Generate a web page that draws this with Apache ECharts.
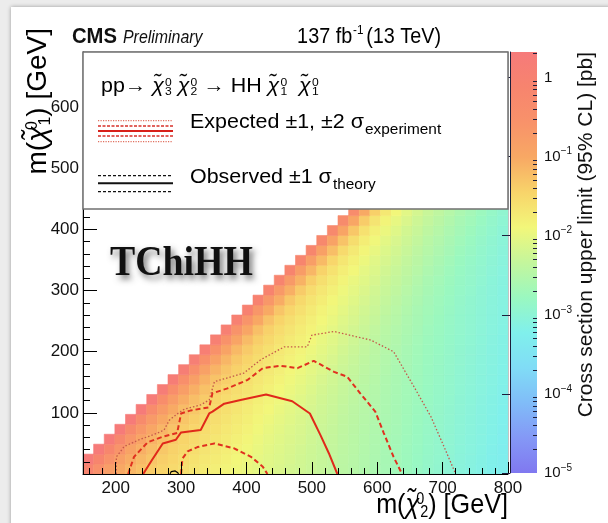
<!DOCTYPE html>
<html>
<head>
<meta charset="utf-8">
<script src="https://cdn.jsdelivr.net/npm/echarts@6/dist/echarts.min.js"></script>
<style>
  html, body { margin: 0; padding: 0; background: #ececec; }
  #chart { width: 608px; height: 523px; }
</style>
</head>
<body>
<div id="chart"></div>
<script>
// ---- Binning of the limit map -------------------------------------------
const X_MIN = 150, X_MAX = 800;      // m(chi2) range [GeV]
const Y_MIN = 0, Y_MAX = 690;        // m(chi1) range [GeV]
const BIN = 16.25;                   // bin width in both masses [GeV]
const N_COLS = 40;                   // number of m(chi2) bins

// 95% CL cross-section upper limit, log10(pb).
// One array per m(chi1) row (row 0 = lowest m(chi1)); each row runs from the
// first bin above the kinematic edge up to m(chi2) = 800 GeV.
const limitLog10Rows = [
  [-0.10,-0.50,-0.80,-1.00,-1.15,-1.26,-1.37,-1.45,-1.53,-1.61,-1.67,-1.74,-1.80,-1.86,-1.92,-1.97,-2.03,-2.08,-2.13,-2.18,-2.22,-2.27,-2.32,-2.37,-2.43,-2.48,-2.54,-2.59,-2.65,-2.70,-2.76,-2.82,-2.88,-2.93,-2.99,-3.05,-3.10,-3.16,-3.22,-3.28],
  [0.30,-0.15,-0.55,-0.85,-1.05,-1.18,-1.30,-1.40,-1.48,-1.56,-1.63,-1.70,-1.76,-1.82,-1.89,-1.94,-2.01,-2.06,-2.11,-2.16,-2.21,-2.26,-2.31,-2.36,-2.42,-2.47,-2.53,-2.58,-2.64,-2.69,-2.75,-2.81,-2.87,-2.92,-2.98,-3.04,-3.09,-3.15,-3.21,-3.27],
  [0.30,-0.20,-0.60,-0.90,-1.08,-1.22,-1.33,-1.43,-1.51,-1.58,-1.66,-1.72,-1.78,-1.85,-1.91,-1.98,-2.04,-2.09,-2.14,-2.19,-2.25,-2.30,-2.35,-2.41,-2.46,-2.52,-2.57,-2.63,-2.68,-2.74,-2.80,-2.86,-2.91,-2.97,-3.03,-3.08,-3.14,-3.20,-3.26],
  [0.30,-0.25,-0.65,-0.93,-1.12,-1.25,-1.36,-1.46,-1.53,-1.61,-1.68,-1.74,-1.81,-1.87,-1.95,-2.01,-2.07,-2.12,-2.17,-2.23,-2.29,-2.34,-2.40,-2.45,-2.51,-2.56,-2.62,-2.67,-2.73,-2.79,-2.85,-2.90,-2.96,-3.02,-3.07,-3.13,-3.19,-3.25],
  [0.30,-0.30,-0.68,-0.97,-1.15,-1.28,-1.39,-1.48,-1.56,-1.63,-1.70,-1.77,-1.83,-1.91,-1.98,-2.04,-2.10,-2.15,-2.21,-2.27,-2.33,-2.39,-2.44,-2.50,-2.55,-2.61,-2.66,-2.72,-2.78,-2.84,-2.89,-2.95,-3.01,-3.06,-3.12,-3.18,-3.24],
  [0.30,-0.33,-0.72,-1.00,-1.18,-1.31,-1.41,-1.51,-1.58,-1.65,-1.73,-1.79,-1.87,-1.94,-2.01,-2.07,-2.13,-2.19,-2.25,-2.31,-2.38,-2.43,-2.49,-2.54,-2.60,-2.65,-2.71,-2.77,-2.83,-2.88,-2.94,-3.00,-3.05,-3.11,-3.17,-3.23],
  [0.27,-0.37,-0.75,-1.03,-1.21,-1.33,-1.44,-1.53,-1.60,-1.68,-1.75,-1.83,-1.90,-1.97,-2.04,-2.10,-2.17,-2.23,-2.29,-2.36,-2.42,-2.48,-2.53,-2.59,-2.64,-2.70,-2.76,-2.82,-2.87,-2.93,-2.99,-3.04,-3.10,-3.16,-3.22],
  [0.23,-0.40,-0.78,-1.06,-1.23,-1.36,-1.46,-1.55,-1.63,-1.70,-1.79,-1.86,-1.93,-2.00,-2.07,-2.14,-2.21,-2.27,-2.34,-2.40,-2.47,-2.52,-2.58,-2.63,-2.69,-2.75,-2.81,-2.86,-2.92,-2.98,-3.03,-3.09,-3.15,-3.21],
  [0.20,-0.43,-0.81,-1.08,-1.26,-1.38,-1.48,-1.58,-1.65,-1.74,-1.82,-1.89,-1.96,-2.03,-2.11,-2.18,-2.25,-2.32,-2.38,-2.45,-2.51,-2.57,-2.62,-2.68,-2.74,-2.80,-2.85,-2.91,-2.97,-3.02,-3.08,-3.14,-3.20],
  [0.17,-0.46,-0.83,-1.11,-1.28,-1.40,-1.51,-1.60,-1.69,-1.77,-1.85,-1.92,-1.99,-2.07,-2.15,-2.22,-2.30,-2.36,-2.43,-2.49,-2.56,-2.61,-2.67,-2.73,-2.79,-2.84,-2.90,-2.96,-3.01,-3.07,-3.13,-3.19],
  [0.14,-0.48,-0.86,-1.13,-1.30,-1.43,-1.53,-1.64,-1.72,-1.80,-1.88,-1.95,-2.03,-2.11,-2.19,-2.27,-2.34,-2.41,-2.47,-2.54,-2.60,-2.66,-2.72,-2.78,-2.83,-2.89,-2.95,-3.00,-3.06,-3.12,-3.18],
  [0.12,-0.51,-0.88,-1.15,-1.33,-1.45,-1.57,-1.67,-1.75,-1.83,-1.91,-1.99,-2.07,-2.15,-2.24,-2.31,-2.39,-2.45,-2.52,-2.58,-2.65,-2.71,-2.77,-2.82,-2.88,-2.94,-2.99,-3.05,-3.11,-3.17],
  [0.09,-0.53,-0.90,-1.18,-1.35,-1.49,-1.60,-1.70,-1.78,-1.86,-1.95,-2.03,-2.11,-2.20,-2.28,-2.36,-2.43,-2.50,-2.56,-2.63,-2.70,-2.76,-2.81,-2.87,-2.93,-2.98,-3.04,-3.10,-3.16],
  [0.07,-0.55,-0.93,-1.20,-1.39,-1.52,-1.63,-1.73,-1.81,-1.90,-1.99,-2.07,-2.16,-2.24,-2.33,-2.40,-2.48,-2.54,-2.61,-2.68,-2.75,-2.80,-2.86,-2.92,-2.97,-3.03,-3.09,-3.15],
  [0.05,-0.58,-0.95,-1.24,-1.42,-1.55,-1.66,-1.76,-1.85,-1.94,-2.03,-2.12,-2.20,-2.29,-2.37,-2.45,-2.52,-2.59,-2.66,-2.73,-2.79,-2.85,-2.91,-2.96,-3.02,-3.08,-3.14],
  [0.02,-0.60,-0.99,-1.27,-1.45,-1.58,-1.69,-1.80,-1.89,-1.98,-2.08,-2.16,-2.25,-2.33,-2.42,-2.49,-2.57,-2.64,-2.71,-2.77,-2.84,-2.90,-2.95,-3.01,-3.07,-3.13],
  [0.00,-0.64,-1.02,-1.30,-1.48,-1.61,-1.73,-1.84,-1.93,-2.03,-2.12,-2.21,-2.29,-2.38,-2.46,-2.54,-2.62,-2.69,-2.75,-2.82,-2.89,-2.94,-3.00,-3.06,-3.12],
  [-0.04,-0.67,-1.05,-1.33,-1.51,-1.65,-1.77,-1.88,-1.98,-2.07,-2.17,-2.25,-2.34,-2.42,-2.51,-2.59,-2.67,-2.73,-2.80,-2.87,-2.93,-2.99,-3.05,-3.11],
  [-0.07,-0.70,-1.08,-1.36,-1.55,-1.69,-1.81,-1.93,-2.02,-2.12,-2.21,-2.30,-2.38,-2.47,-2.56,-2.64,-2.71,-2.78,-2.85,-2.91,-2.98,-3.04,-3.10],
  [-0.10,-0.73,-1.11,-1.40,-1.59,-1.73,-1.86,-1.97,-2.07,-2.16,-2.26,-2.34,-2.43,-2.52,-2.61,-2.68,-2.76,-2.83,-2.89,-2.96,-3.03,-3.09],
  [-0.13,-0.76,-1.15,-1.44,-1.63,-1.78,-1.90,-2.02,-2.11,-2.21,-2.30,-2.39,-2.48,-2.57,-2.65,-2.73,-2.81,-2.87,-2.94,-3.01,-3.08],
  [-0.16,-0.80,-1.19,-1.48,-1.68,-1.82,-1.95,-2.06,-2.16,-2.25,-2.35,-2.44,-2.53,-2.61,-2.70,-2.78,-2.85,-2.92,-2.99,-3.06],
  [-0.20,-0.84,-1.23,-1.53,-1.72,-1.87,-1.99,-2.11,-2.20,-2.30,-2.40,-2.49,-2.57,-2.66,-2.75,-2.82,-2.90,-2.97,-3.04],
  [-0.24,-0.88,-1.28,-1.57,-1.77,-1.91,-2.04,-2.15,-2.25,-2.35,-2.45,-2.53,-2.62,-2.71,-2.79,-2.87,-2.95,-3.02],
  [-0.28,-0.93,-1.32,-1.62,-1.81,-1.96,-2.08,-2.20,-2.30,-2.40,-2.49,-2.58,-2.67,-2.75,-2.84,-2.92,-3.00],
  [-0.33,-0.97,-1.37,-1.66,-1.86,-2.00,-2.13,-2.25,-2.35,-2.44,-2.54,-2.63,-2.71,-2.80,-2.89,-2.97],
  [-0.37,-1.02,-1.41,-1.71,-1.90,-2.05,-2.18,-2.30,-2.39,-2.49,-2.59,-2.67,-2.76,-2.85,-2.94]
];

// ---- Exclusion contours, [m(chi2), m(chi1)] in GeV -------------------------
const expectedLimit = [[242,0],[255,22],[272,50],[292,56],[300,68],[330,72],[343,99],[348,102],[366,115],[391,121],[430,130],[470,119],[497,99],[513,64],[526,34],[539,0]];
const expectedMinus1Sigma = [[219,0],[228,28],[249,52],[272,61],[294,67],[300,99],[315,104],[343,109],[348,132],[371,140],[402,154],[425,173],[452,177],[478,173],[503,185],[534,167],[554,159],[574,132],[597,102],[610,67],[625,28],[638,0]];
const expectedPlus1Sigma = [[300,0],[302,25],[310,37],[325,44],[351,50],[381,42],[407,28],[425,12],[432,0]];
const expectedMinus2Sigma = [[201,0],[201,28],[213,45],[236,56],[262,66],[274,72],[282,88],[295,99],[305,106],[330,113],[343,121],[351,151],[396,165],[422,187],[458,208],[493,208],[500,227],[534,233],[590,219],[625,200],[656,143],[682,94],[702,45],[720,0]];
const observedLimit = [[283,0],[285,4],[291,5],[295,2],[296,0]];

// ---- Axis ticks --------------------------------------------------------------
const xMajorTicks = [200,300,400,500,600,700,800];
const xMinorTicks = [160,180,200,220,240,260,280,300,320,340,360,380,400,420,440,460,480,500,520,540,560,580,600,620,640,660,680,700,720,740,760,780,800];
const yMajorTicks = [100,200,300,400,500,600];
const yMinorTicks = [20,40,60,80,120,140,160,180,220,240,260,280,320,340,360,380,420,440,460,480,520,540,560,580,620,640,660,680];
const zMin = 1e-5, zMax = 2.1;                      // colour scale range [pb]
const zMajorTicks = [1e-5,1e-4,1e-3,1e-2,1e-1,1];
const zMinorTicks = [2e-5,3e-5,4e-5,5e-5,6e-5,7e-5,8e-5,9e-5,
                     2e-4,3e-4,4e-4,5e-4,6e-4,7e-4,8e-4,9e-4,
                     2e-3,3e-3,4e-3,5e-3,6e-3,7e-3,8e-3,9e-3,
                     2e-2,3e-2,4e-2,5e-2,6e-2,7e-2,8e-2,9e-2,
                     2e-1,3e-1,4e-1,5e-1,6e-1,7e-1,8e-1,9e-1,2];

// Colour palette, from the lowest to the highest limit
const paletteColors = ['#8078f0','#8498f6','#80bcf8','#80dcf6','#80f0ec','#9af8c0','#c4f69c',
                       '#f2f77a','#f8d46a','#f8a864','#f8926a','#f7846e','#f67a7a'];

const SANS = '"Liberation Sans", Arial, Helvetica, sans-serif';
const SERIF = '"Liberation Serif", "Times New Roman", serif';
const CHI = '\u03c7\u0303';
const Z_LOG_MIN = Math.log10(zMin), Z_LOG_MAX = Math.log10(zMax);

// Cells of the limit map: [x0, x1, y0, y1, log10(limit)]
const cells = [];
limitLog10Rows.forEach((row, j) => {
  const firstCol = N_COLS - row.length;
  row.forEach((v, k) => {
    const i = firstCol + k;
    cells.push([X_MIN + i * BIN, X_MIN + (i + 1) * BIN, Y_MIN + j * BIN, Y_MIN + (j + 1) * BIN, v]);
  });
});

function renderCell(params, api) {
  const a = api.coord([api.value(0), api.value(2)]);
  const b = api.coord([api.value(1), api.value(3)]);
  const color = api.visual('color');
  return {
    type: 'rect',
    shape: { x: a[0], y: b[1], width: b[0] - a[0], height: a[1] - b[1] },
    style: { fill: color, stroke: color, lineWidth: 0.6 }
  };
}

// Rich-text styles for a tilde-chi with stacked super/subscripts
function chiRich(size, color) {
  const small = Math.round(size * 0.58);
  const line = Math.round(size * 1.1);
  return {
    n:   { fontSize: size, fontFamily: SANS, color: color, lineHeight: line },
    c:   { fontSize: size, fontFamily: SANS, fontStyle: 'italic', color: color, lineHeight: line, padding: [0, 1, 0, 0] },
    sup: { fontSize: small, fontFamily: SANS, color: color, width: 0, align: 'left', verticalAlign: 'top',
           lineHeight: small, padding: [Math.round(size * 0.06), 0, 0, 0] },
    sub: { fontSize: small, fontFamily: SANS, color: color, align: 'left', verticalAlign: 'bottom', lineHeight: small }
  };
}
function chi(idx) { return '{c|' + CHI + '}{sup|0}{sub|' + idx + '}'; }

function contour(data, color, width, dash) {
  return {
    type: 'line', data: data, xAxisIndex: 0, yAxisIndex: 0,
    showSymbol: false, symbol: 'none', silent: true, clip: true, z: 3,
    lineStyle: { color: color, width: width, type: dash || 'solid' }
  };
}

function legendLine(y, color, width, dash) {
  return {
    type: 'line', z: 21, silent: true,
    shape: { x1: 98, y1: y, x2: 173, y2: y },
    style: { stroke: color, lineWidth: width, lineDash: dash || null }
  };
}

const chart = echarts.init(document.getElementById('chart'), null, { renderer: 'canvas' });

const option = {
  animation: false,
  backgroundColor: 'transparent',
  grid: [
    { left: 83, top: 52, width: 425, height: 422, show: true, borderColor: '#8a8a8a', borderWidth: 1, backgroundColor: '#fff' },
    { left: 510, top: 52, width: 27, height: 421 }
  ],
  xAxis: [
    { gridIndex: 0, type: 'value', min: X_MIN, max: X_MAX, position: 'bottom', z: 5,
      axisLine: { show: true, lineStyle: { color: '#000', width: 1 } },
      axisTick: { show: true, inside: true, length: 12, customValues: xMajorTicks, lineStyle: { color: '#000', width: 1 } },
      axisLabel: { customValues: xMajorTicks, margin: 6, fontSize: 17, color: '#111', fontFamily: SANS },
      splitLine: { show: false } },
    { gridIndex: 0, type: 'value', min: X_MIN, max: X_MAX, position: 'bottom', z: 5,
      axisLine: { show: false },
      axisTick: { show: true, inside: true, length: 6, customValues: xMinorTicks, lineStyle: { color: '#000', width: 1 } },
      axisLabel: { show: false }, splitLine: { show: false } },
    { gridIndex: 1, type: 'value', min: 0, max: 1, show: false }
  ],
  yAxis: [
    { gridIndex: 0, type: 'value', min: Y_MIN, max: Y_MAX, position: 'left', z: 5,
      axisLine: { show: true, lineStyle: { color: '#000', width: 1 } },
      axisTick: { show: true, inside: true, length: 14, customValues: yMajorTicks, lineStyle: { color: '#000', width: 1 } },
      axisLabel: { customValues: yMajorTicks, margin: 4, fontSize: 17, color: '#111', fontFamily: SANS },
      splitLine: { show: false } },
    { gridIndex: 0, type: 'value', min: Y_MIN, max: Y_MAX, position: 'left', z: 5,
      axisLine: { show: false },
      axisTick: { show: true, inside: true, length: 7, customValues: yMinorTicks, lineStyle: { color: '#000', width: 1 } },
      axisLabel: { show: false }, splitLine: { show: false } },
    { gridIndex: 1, type: 'value', min: Z_LOG_MIN, max: Z_LOG_MAX, position: 'right', z: 6,
      axisLine: { show: true, lineStyle: { color: '#1d1d3a', width: 1 } },
      axisTick: { show: true, inside: true, length: 8, customValues: zMajorTicks.map(Math.log10), lineStyle: { color: '#1d1d3a' } },
      axisLabel: {
        customValues: zMajorTicks.map(Math.log10), margin: 7, color: '#111',
        formatter: v => Math.round(v) === 0 ? '{b|1}' : '{b|10}{e|\u2212' + Math.abs(Math.round(v)) + '}',
        rich: {
          b: { fontSize: 15, fontFamily: SANS, color: '#111', lineHeight: 20 },
          e: { fontSize: 10, fontFamily: SANS, color: '#111', verticalAlign: 'top', lineHeight: 11 }
        }
      },
      splitLine: { show: false } },
    { gridIndex: 1, type: 'value', min: Z_LOG_MIN, max: Z_LOG_MAX, position: 'right', z: 6,
      axisLine: { show: false },
      axisTick: { show: true, inside: true, length: 4, customValues: zMinorTicks.map(Math.log10), lineStyle: { color: '#1d1d3a' } },
      axisLabel: { show: false }, splitLine: { show: false } }
  ],
  visualMap: {
    show: false, type: 'continuous', seriesIndex: 0, dimension: 4,
    min: Z_LOG_MIN, max: Z_LOG_MAX, inRange: { color: paletteColors }
  },
  series: [
    { type: 'custom', name: 'limit', xAxisIndex: 0, yAxisIndex: 0, data: cells,
      dimensions: ['x0', 'x1', 'y0', 'y1', 'limit'],
      encode: { x: [0, 1], y: [2, 3] }, renderItem: renderCell, clip: true, silent: true, z: 2 },
    contour(expectedMinus2Sigma, '#c4574a', 1.3, [1.5, 2]),
    contour(expectedMinus1Sigma, '#e0301f', 2, [5, 3]),
    contour(expectedPlus1Sigma, '#e0301f', 2, [5, 3]),
    contour(expectedLimit, '#e0291a', 2),
    contour(observedLimit, '#000', 1.2)
  ],
  graphic: [
    // page panel
    { type: 'rect', z: -10, silent: true, shape: { x: 11, y: 7, width: 600, height: 520 },
      style: { fill: '#fff', shadowBlur: 4, shadowColor: 'rgba(0,0,0,0.35)' } },
    // colour bar
    { type: 'rect', z: 4, silent: true, shape: { x: 510, y: 52, width: 27, height: 421 },
      style: { fill: new echarts.graphic.LinearGradient(0, 1, 0, 0,
        paletteColors.map((c, i) => ({ offset: i / (paletteColors.length - 1), color: c }))) } },
    // header
    { type: 'text', z: 20, x: 72, y: 36.5, scaleX: 0.92, silent: true,
      style: { text: 'CMS', font: 'bold 22px ' + SANS, fill: '#111', verticalAlign: 'middle', align: 'left' } },
    { type: 'text', z: 20, x: 123, y: 37.5, scaleX: 0.86, silent: true,
      style: { text: 'Preliminary', font: 'italic 18.5px ' + SANS, fill: '#111', verticalAlign: 'middle', align: 'left' } },
    { type: 'text', z: 20, x: 441, y: 36.5, scaleX: 0.9, silent: true,
      style: { text: '{n|137 fb}{s|-1}{n|(13 TeV)}', align: 'right', verticalAlign: 'middle',
        rich: { n: { fontSize: 22, fontFamily: SANS, color: '#111', lineHeight: 26 },
                s: { fontSize: 13, fontFamily: SANS, color: '#111', verticalAlign: 'top', lineHeight: 14, padding: [0, 3, 0, 1] } } } },
    // legend box
    { type: 'rect', z: 20, silent: true, shape: { x: 83, y: 52, width: 425, height: 157 },
      style: { fill: '#fff', stroke: '#707070', lineWidth: 1.5 } },
    { type: 'text', z: 21, x: 101, y: 86.5, scaleX: 1.1, silent: true,
      style: { text: '{n|pp\u2192 }' + chi(3) + '{n| }' + chi(2) + '{n| \u2192 HH }' + chi(1) + '{n|  }' + chi(1),
        align: 'left', verticalAlign: 'middle', rich: chiRich(19.5, '#111') } },
    legendLine(120.7, '#e07060', 1.2, [1.2, 1.3]),
    legendLine(126, '#d8302a', 1.5, [3, 1.5]),
    legendLine(131, '#d8201a', 2),
    legendLine(136, '#d8302a', 1.5, [3, 1.5]),
    legendLine(141.7, '#e07060', 1.2, [1.2, 1.3]),
    { type: 'text', z: 21, x: 190, y: 113, scaleX: 1.1, silent: true,
      style: { text: '{m|Expected \u00b11, \u00b12 \u03c3}{s|experiment}', align: 'left', verticalAlign: 'top',
        rich: { m: { fontSize: 19.5, fontFamily: SANS, color: '#111', lineHeight: 24, verticalAlign: 'top' },
                s: { fontSize: 14, fontFamily: SANS, color: '#111', lineHeight: 16, padding: [16, 0, 0, 1], verticalAlign: 'bottom' } } } },
    legendLine(175.7, '#111', 1.2, [3, 2]),
    legendLine(183.3, '#111', 2),
    legendLine(191.7, '#111', 1.2, [3, 2]),
    { type: 'text', z: 21, x: 190, y: 168, scaleX: 1.1, silent: true,
      style: { text: '{m|Observed \u00b11 \u03c3}{s|theory}', align: 'left', verticalAlign: 'top',
        rich: { m: { fontSize: 19.5, fontFamily: SANS, color: '#111', lineHeight: 24, verticalAlign: 'top' },
                s: { fontSize: 14, fontFamily: SANS, color: '#111', lineHeight: 16, padding: [16, 0, 0, 1], verticalAlign: 'bottom' } } } },
    // model tag
    { type: 'text', z: 21, x: 110, y: 264.5, scaleX: 0.9, silent: true,
      style: { text: 'TChiHH', font: 'bold 42px ' + SERIF, fill: '#111', align: 'left', verticalAlign: 'middle',
        textShadowColor: 'rgba(0,0,0,0.55)', textShadowBlur: 6, textShadowOffsetX: 3, textShadowOffsetY: 4 } },
    // axis titles
    { type: 'text', z: 21, x: 508, y: 505, scaleX: 0.9, silent: true,
      style: { text: '{n|m(}' + chi(2) + '{n|) [GeV]}', align: 'right', verticalAlign: 'middle', rich: chiRich(28, '#111') } },
    { type: 'text', z: 21, x: 38, y: 28, rotation: Math.PI / 2, silent: true,
      style: { text: '{n|m(}' + chi(1) + '{n|) [GeV]}', align: 'right', verticalAlign: 'middle', rich: chiRich(28, '#111') } },
    { type: 'text', z: 21, x: 586, y: 52, rotation: Math.PI / 2, silent: true,
      style: { text: 'Cross section upper limit (95% CL) [pb]', font: '21px ' + SANS, fill: '#111',
        align: 'right', verticalAlign: 'middle' } }
  ]
};

chart.setOption(option);
</script>
</body>
</html>
